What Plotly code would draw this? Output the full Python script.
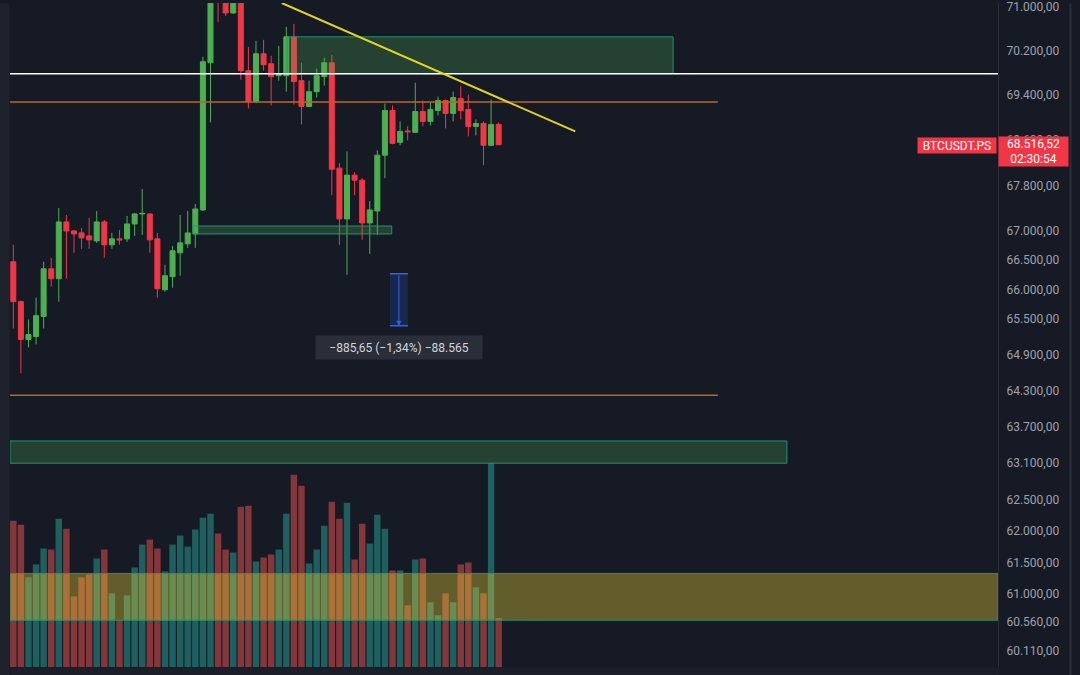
import numpy as np
import plotly.graph_objects as go

# ---------------- data ----------------
opens = [66473, 65792, 65151, 65202, 65540, 66353, 66183, 67162, 67005, 66971,
         66919, 66833, 67162, 66765, 66868, 66868, 67127, 67300, 67300, 66868,
         65995, 66217, 66627, 66782, 66954, 67370, 69984, 71450, 71200, 70891,
         71150, 69840, 69285, 70146, 69966, 69750, 69750, 70454, 69660, 69196,
         69462, 69732, 69984, 68102, 67214, 67979, 67891, 67144, 67352, 68330,
         69125, 68558, 68760, 68735, 69107, 68930, 69125, 69302, 69072, 69338,
         69143, 68841, 68894, 68505, 68877]
highs = [66765, 65810, 65487, 65859, 66473, 66541, 67404, 67283, 67023, 67057,
         67231, 67352, 67196, 66971, 67023, 67266, 67318, 67734, 67310, 66971,
         66422, 66748, 67283, 67352, 67474, 70092, 71550, 71600, 71350, 71250,
         71200, 70272, 70381, 70399, 70110, 70290, 70636, 70691, 69984, 69660,
         69876, 70074, 70128, 68190, 68400, 68032, 67926, 67526, 68418, 69249,
         69214, 68930, 68841, 69624, 69302, 69267, 69373, 69320, 69462, 69570,
         69409, 68965, 68930, 69320, 68912]
lows = [65336, 64585, 65017, 65068, 65336, 66046, 65792, 66183, 66627, 66696,
        66696, 66799, 66541, 66696, 66765, 66816, 66919, 66936, 66627, 65859,
        65961, 66029, 66234, 66713, 66713, 67352, 68912, 70727, 70836, 70873,
        69678, 69160, 69267, 69840, 69214, 69660, 69462, 69231, 68877, 69190,
        69356, 69570, 67630, 66765, 66251, 67630, 66851, 66610, 66936, 67926,
        68523, 68505, 68593, 68730, 68841, 68859, 69036, 68806, 68930, 68965,
        68664, 68682, 68154, 68488, 68510]
closes = [65792, 65151, 65235, 65554, 66353, 66183, 67162, 67005, 66954, 66885,
          66851, 67162, 66765, 66868, 66851, 67127, 67300, 67310, 66851, 66012,
          66234, 66662, 66799, 66971, 67387, 70002, 71300, 71150, 70891, 71150,
          69840, 69285, 70146, 69948, 69732, 69768, 70454, 69642, 69196, 69462,
          69750, 69984, 68084, 67214, 67979, 67891, 67144, 67370, 68330, 69125,
          68540, 68752, 68745, 69107, 68930, 69143, 69302, 69072, 69356, 69125,
          68841, 68894, 68505, 68877, 68516.52]
volumes = [147, 143, 90, 103, 119, 118, 149, 139, 71, 90,
           93, 109, 118, 74, 47, 72, 100, 123, 128, 119,
           96, 123, 132, 121, 138, 150, 154, 134, 118, 115,
           161, 162, 106, 110, 113, 118, 154, 193, 182, 104,
           118, 142, 166, 149, 165, 108, 144, 124, 153, 139,
           97, 97, 62, 108, 109, 65, 52, 74, 65, 103,
           105, 80, 74, 205, 49]

tick_values = [71000, 70200, 69400, 68600, 67800, 67000, 66500, 66000, 65500,
               64900, 64300, 63700, 63100, 62500, 62000, 61500, 61000, 60560, 60110]

symbol = "BTCUSDT.PS"
countdown = "02:30:54"

# drawn levels / zones (prices), x in bar-index units
white_level = 69786
orange_levels = [69276, 64218]
orange_end_x = 92.9
zone_upper = (36.1, 87.0, 70454, 69786)
zone_small = (23.7, 49.9, 67091, 66953)
zone_lower = (-0.43, 102.0, 63464, 63100)
zone_yellow = (61327, 60590)
trend = (35.4, 71073, 74.1, 68752)
meas_x = (49.66, 52.03)
meas_top = 66268
meas_change = -885.65
meas_pct = -1.34
meas_ticks = -88565

x_range = [-0.435, 129.84]
price_range = [59861, 71073]

# ---------------- helpers ----------------
def fmt(v):
    return f"{v:,.2f}".replace(",", "X").replace(".", ",").replace("X", ".")

L = np.log10
BG = "#161a25"
UP = "#4caf50"
DN = "#f23645"
VOL_UP = "rgba(38,166,154,0.5)"
VOL_DN = "rgba(239,83,80,0.5)"
ZONE_LINE = "#1f9470"
ZONE_FILL = "rgba(76,175,80,0.27)"
FONT = "Roboto"

n = len(closes)
idx = list(range(n))
vol_colors = [VOL_UP if c >= o else VOL_DN for o, c in zip(opens, closes)]

fig = go.Figure()
# volume on the (hidden, linear) main axis
fig.add_trace(go.Bar(x=idx, y=volumes, yaxis="y", width=0.85,
                     marker=dict(color=vol_colors, line=dict(width=0)),
                     hoverinfo="skip"))
# price on the overlaying log axis
fig.add_trace(go.Candlestick(
    x=idx, open=opens, high=highs, low=lows, close=closes, yaxis="y2",
    increasing=dict(line=dict(color=UP, width=1), fillcolor=UP),
    decreasing=dict(line=dict(color=DN, width=1), fillcolor=DN),
    whiskerwidth=0, hoverinfo="skip"))


def rect_trace(x0, x1, p_top, p_bot, fill, line_color, line_width=1):
    return go.Scatter(x=[x0, x1, x1, x0, x0], y=[p_top, p_top, p_bot, p_bot, p_top],
                      yaxis="y2", mode="lines", fill="toself", fillcolor=fill,
                      line=dict(color=line_color, width=line_width),
                      hoverinfo="skip")


def hline_trace(x0, x1, p, color, width):
    return go.Scatter(x=[x0, x1], y=[p, p], yaxis="y2", mode="lines",
                      line=dict(color=color, width=width), hoverinfo="skip")


# zones
fig.add_trace(rect_trace(x_range[0], x_range[1], zone_yellow[0], zone_yellow[1],
                         "rgba(255,232,59,0.33)", ZONE_LINE))
for (x0, x1, p0, p1) in [zone_upper, zone_small, zone_lower]:
    fig.add_trace(rect_trace(x0, x1, p0, p1, ZONE_FILL, ZONE_LINE))

# levels
fig.add_trace(hline_trace(x_range[0], x_range[1], white_level, "#ffffff", 1.5))
for lv in orange_levels:
    fig.add_trace(hline_trace(x_range[0], orange_end_x, lv, "#b8681e", 1.5))

# trend line
fig.add_trace(go.Scatter(x=[trend[0], trend[2]], y=[trend[1], trend[3]], yaxis="y2",
                         mode="lines", line=dict(color="#e3d322", width=2), hoverinfo="skip"))

# measurement
meas_bot = meas_top + meas_change
fig.add_trace(rect_trace(meas_x[0], meas_x[1], meas_top, meas_bot,
                         "rgba(41,98,255,0.18)", "rgba(0,0,0,0)", 0))
for p in (meas_top, meas_bot):
    fig.add_trace(hline_trace(meas_x[0], meas_x[1], p, "#2962ff", 1.5))

mx = (meas_x[0] + meas_x[1]) / 2
last = closes[-1]
pct_txt = f"{abs(meas_pct):.2f}".replace(".", ",")
ticks_txt = f"{abs(meas_ticks):,}".replace(",", ".")
meas_text = f"\u2212{fmt(abs(meas_change))} (\u2212{pct_txt}%) \u2212{ticks_txt}"

annotations = [
    # frame pieces (left toolbar edge, bottom time strip, right separator)
    dict(x=0, y=1, xref="paper", yref="paper", xanchor="right", yanchor="top", text=" ",
         showarrow=False, width=10, height=675, bgcolor="#1e222d", borderpad=0,
         font=dict(size=1)),
    dict(x=0, y=0, xref="paper", yref="paper", xanchor="left", yanchor="top", text=" ",
         showarrow=False, width=988, height=8, bgcolor="#1b1f2a", borderpad=0,
         font=dict(size=1)),
    dict(x=1.0729, y=1, xref="paper", yref="paper", xanchor="center", yanchor="top", text=" ",
         showarrow=False, width=1, height=675, bgcolor="#2a2e39", borderpad=0,
         font=dict(size=1)),
    # measurement arrow and label
    dict(x=mx, y=L(meas_bot), ax=mx, ay=L(meas_top), xref="x", yref="y2", axref="x", ayref="y2",
         text="", showarrow=True, arrowhead=2, arrowsize=1, arrowwidth=1, arrowcolor="#2962ff"),
    dict(x=mx, y=L(meas_bot), xref="x", yref="y2", yanchor="top", yshift=-9, showarrow=False,
         text=meas_text, bgcolor="#2a2e39", width=166, height=23, borderpad=0,
         font=dict(family=FONT, size=12, color="#d1d4dc")),
    # last price labels
    dict(x=1, y=L(last), xref="paper", yref="y2", xanchor="left", yanchor="middle", yshift=-7,
         showarrow=False, text=f"{fmt(last)}<br>{countdown}", bgcolor=DN, width=69, height=29,
         borderpad=0, align="center", font=dict(family=FONT, size=12, color="#ffffff")),
    dict(x=1, y=L(last), xref="paper", yref="y2", xanchor="right", yanchor="middle", yshift=-1, xshift=-1,
         showarrow=False, text=symbol, bgcolor=DN, width=78, height=15, borderpad=0,
         font=dict(family=FONT, size=12, color="#ffffff")),
]

fig.update_layout(
    width=1080, height=675, margin=dict(l=10, r=82, t=0, b=8),
    paper_bgcolor=BG, plot_bgcolor=BG, showlegend=False,
    boxgap=0.34, boxgroupgap=0,
    xaxis=dict(range=x_range, visible=False, rangeslider=dict(visible=False)),
    yaxis=dict(range=[0, 667], visible=False),
    yaxis2=dict(type="log", range=[L(price_range[0]), L(price_range[1])], side="right",
                overlaying="y",
                tickvals=tick_values, ticktext=[fmt(v) for v in tick_values],
                showgrid=False, zeroline=False, showline=True, linecolor="#2a2e39", linewidth=1,
                ticks="", ticklabelstandoff=5, ticklabeloverflow="allow",
                tickfont=dict(family=FONT, size=12, color="#9ea1aa")),
    annotations=annotations,
)

fig.write_html("out.html")
